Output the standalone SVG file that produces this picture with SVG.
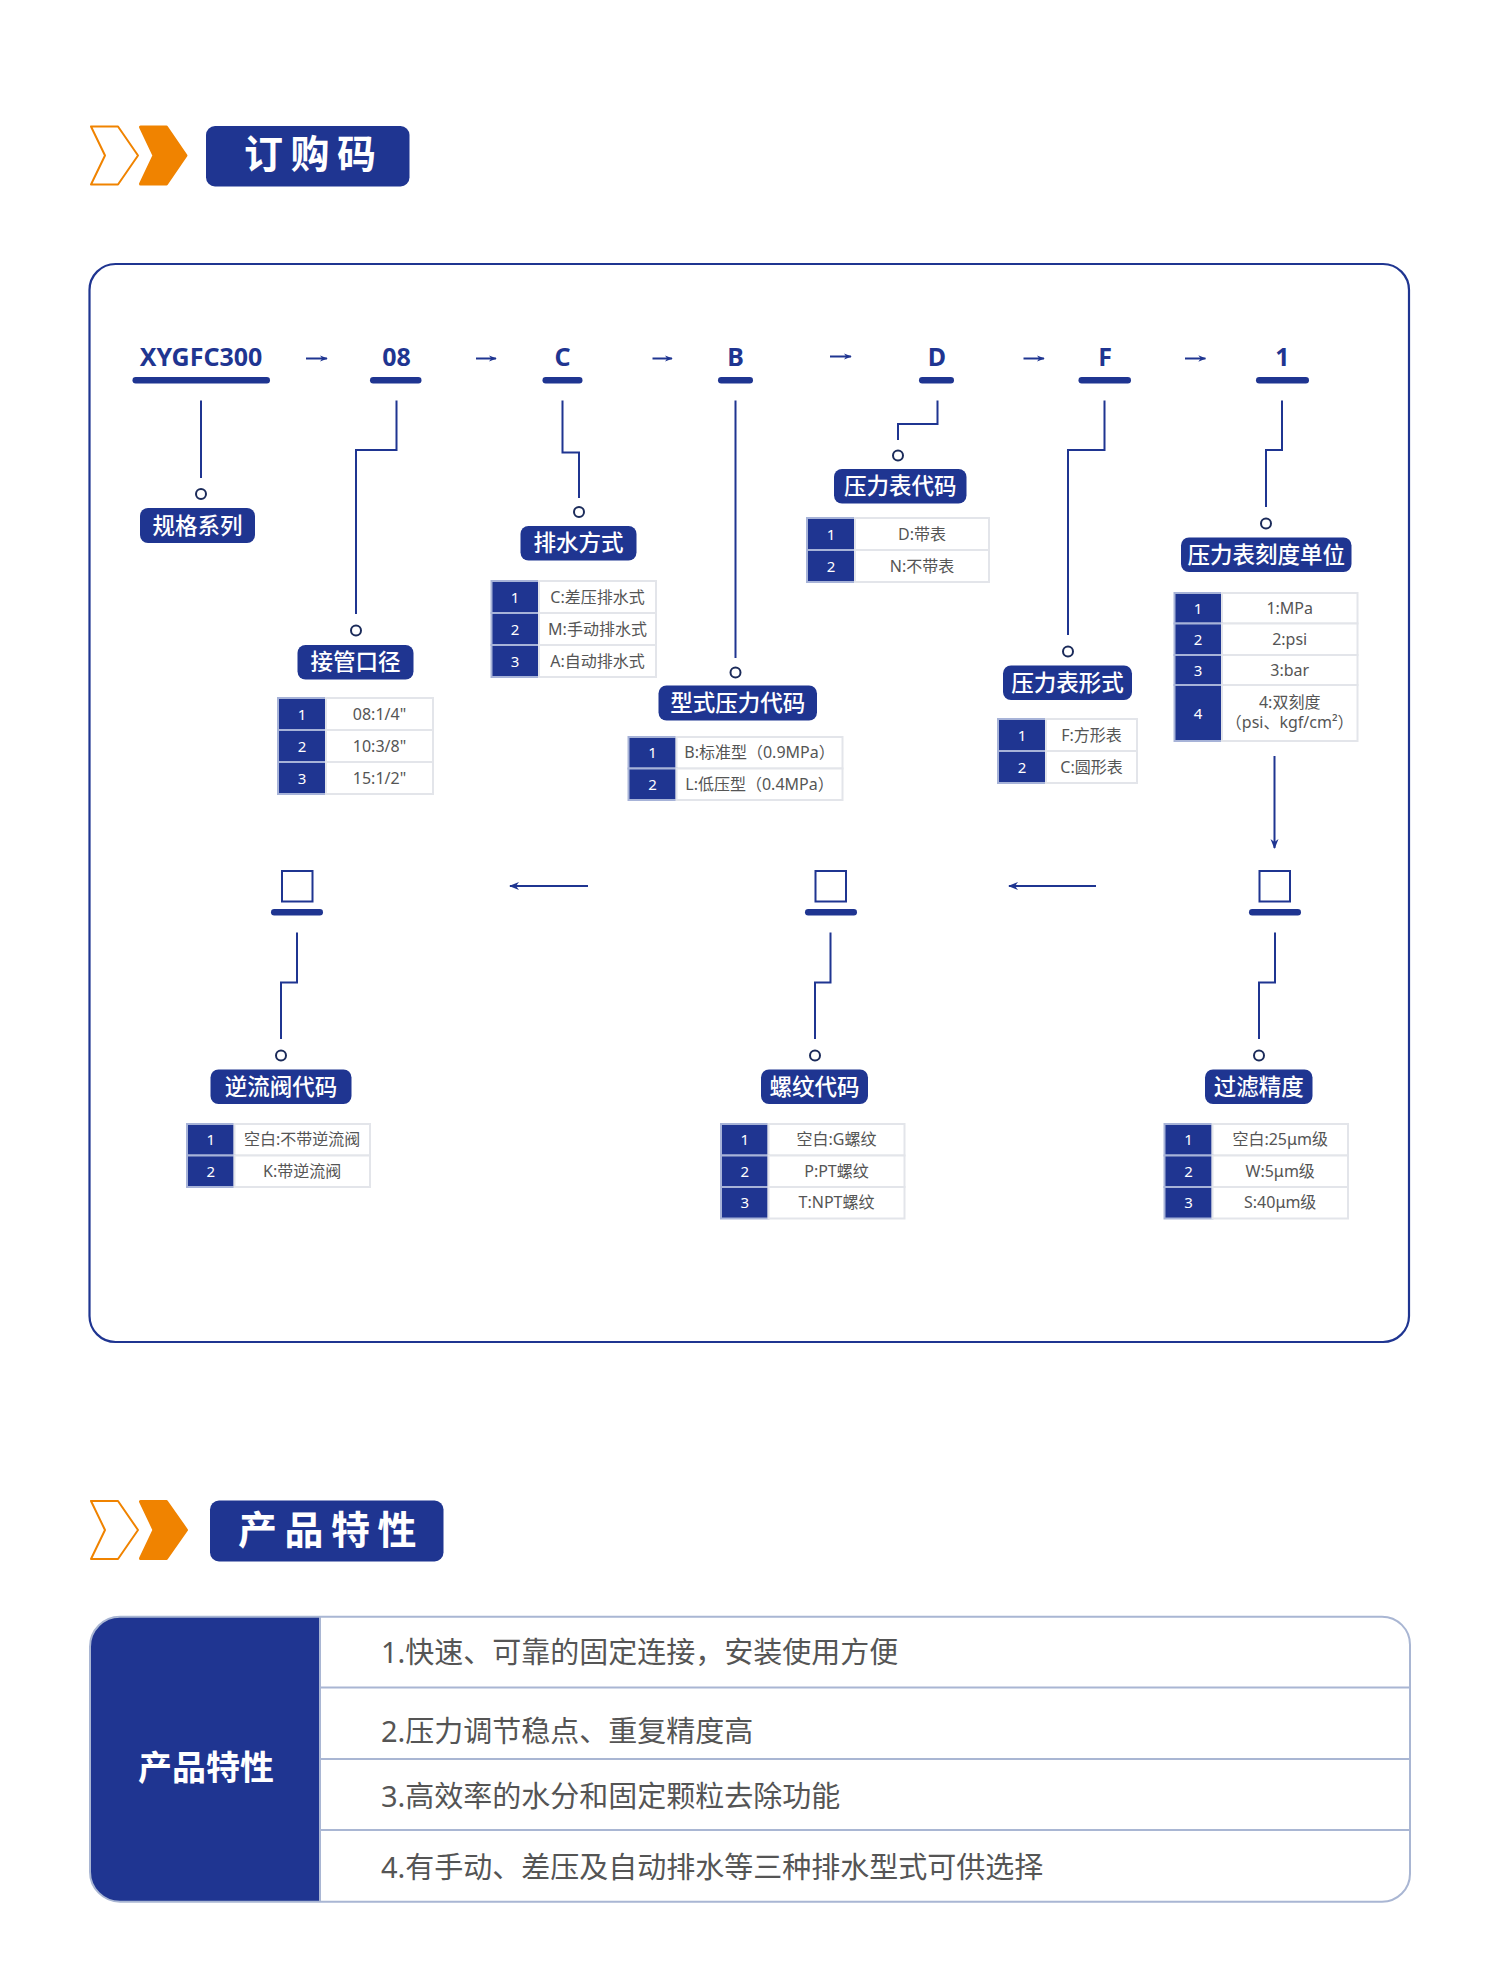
<svg xmlns="http://www.w3.org/2000/svg" width="1500" height="1967" viewBox="0 0 1500 1967">
<defs>
<style>
.navy{fill:#1f3591}
.conn{fill:none;stroke:#1f3591;stroke-width:2}
.dot{fill:#fff;stroke:#1b2b5a;stroke-width:2}
.lbl{fill:#1f3591}
.lt{fill:#fff;font-family:"Noto Sans CJK SC",sans-serif;font-weight:500;font-size:22.5px;text-anchor:middle}
.code{fill:#1f3591;font-family:"Noto Sans","Noto Sans CJK SC",sans-serif;font-weight:bold;font-size:25px;text-anchor:middle}
.bar{fill:#1f3591}
.num{fill:#1f3591;stroke:#a7b3d8;stroke-width:2}
.cell{fill:#fff;stroke:#e3e5ea;stroke-width:2}
.nt{fill:#fff;font-family:"Noto Sans",sans-serif;font-size:15px;text-anchor:middle}
.ct{fill:#555;font-family:"Noto Sans","Noto Sans CJK SC",sans-serif;font-size:16px;text-anchor:middle}
.sq{fill:#fff;stroke:#1f3591;stroke-width:2}
.title{fill:#fff;font-family:"Noto Sans CJK SC",sans-serif;font-weight:bold;font-size:39px;letter-spacing:7.5px}
.feat{fill:#555;font-family:"Noto Sans","Noto Sans CJK SC",sans-serif;font-size:29px}
.sep{stroke:#a9b6d3;stroke-width:2;fill:none}
</style>
<marker id="ah" viewBox="0 0 10 10" refX="9" refY="5" markerWidth="8" markerHeight="8" markerUnits="userSpaceOnUse" orient="auto">
<path d="M0,1 L10,5 L0,9 L3,5 Z" fill="#1f3591"/>
</marker>
<marker id="ahb" viewBox="0 0 10 10" refX="9" refY="5" markerWidth="10" markerHeight="10" markerUnits="userSpaceOnUse" orient="auto">
<path d="M0,1 L10,5 L0,9 L3,5 Z" fill="#1f3591"/>
</marker>
</defs>
<rect width="1500" height="1967" fill="#fff"/>

<!-- Section 1 header -->
<g id="header1">
<path d="M91 126.5 H118 L138 155.5 L118 184.5 H91 L105 155.5 Z" fill="none" stroke="#f08300" stroke-width="2" stroke-linejoin="round"/>
<path d="M140.5 127 H166.5 L186 155.5 L166.5 184 H140.5 L154 155.5 Z" fill="#f08300" stroke="#f08300" stroke-width="3" stroke-linejoin="round"/>
<rect x="206" y="126" width="203.5" height="60.5" rx="9" class="navy"/>
<text x="244" y="168" class="title">订购码</text>
</g>

<!-- Main frame -->
<rect id="frame" x="89.5" y="264" width="1319.5" height="1078" rx="26" fill="none" stroke="#1f3591" stroke-width="2.2"/>

<!-- Top code row -->
<g id="codes">
<text x="201" y="366" class="code">XYGFC300</text>
<rect x="132.5" y="377" width="137.5" height="6.5" rx="3.2" class="bar"/>
<text x="396.5" y="366" class="code">08</text>
<rect x="370" y="377" width="51.5" height="6.5" rx="3.2" class="bar"/>
<text x="562.5" y="366" class="code">C</text>
<rect x="542.5" y="377" width="40" height="6.5" rx="3.2" class="bar"/>
<text x="735.5" y="366" class="code">B</text>
<rect x="718" y="377" width="35" height="6.5" rx="3.2" class="bar"/>
<text x="937" y="366" class="code">D</text>
<rect x="919" y="377" width="35" height="6.5" rx="3.2" class="bar"/>
<text x="1105" y="366" class="code">F</text>
<rect x="1078.5" y="377" width="52.5" height="6.5" rx="3.2" class="bar"/>
<text x="1282.5" y="366" class="code">1</text>
<rect x="1256" y="377" width="53" height="6.5" rx="3.2" class="bar"/>
</g>

<!-- Bottom code squares -->
<g id="slot-check">
<rect x="282" y="871" width="30.5" height="30.5" class="sq"/>
<rect x="271" y="909" width="52" height="6.5" rx="3.2" class="bar"/>
</g>
<g id="slot-thread">
<rect x="815.5" y="871" width="30.5" height="30.5" class="sq"/>
<rect x="805" y="909" width="52" height="6.5" rx="3.2" class="bar"/>
</g>
<g id="slot-filter">
<rect x="1259.5" y="871" width="30.5" height="30.5" class="sq"/>
<rect x="1249" y="909" width="52" height="6.5" rx="3.2" class="bar"/>
</g>

<!-- Connectors -->
<g id="connectors">
<path class="conn" d="M306 358.5 H327" marker-end="url(#ah)"/>
<path class="conn" d="M476 358.5 H496" marker-end="url(#ah)"/>
<path class="conn" d="M652.5 358.5 H672" marker-end="url(#ah)"/>
<path class="conn" d="M830 356.5 H851" marker-end="url(#ah)"/>
<path class="conn" d="M1023.5 358.5 H1044" marker-end="url(#ah)"/>
<path class="conn" d="M1185 358.5 H1205.5" marker-end="url(#ah)"/>

<path class="conn" d="M201 400.5 V478"/>
<path class="conn" d="M396.5 400.5 V450 H356 V614"/>
<path class="conn" d="M562.5 400.5 V452.5 H579 V498"/>
<path class="conn" d="M735.5 400.5 V658"/>
<path class="conn" d="M937.5 400.5 V424 H898 V440"/>
<path class="conn" d="M1104.5 400.5 V450 H1068 V635"/>
<path class="conn" d="M1282 400.5 V450 H1266 V507"/>
<path class="conn" d="M1274.5 756 V848" marker-end="url(#ahb)"/>

<path class="conn" d="M1096 886 H1009" marker-end="url(#ahb)"/>
<path class="conn" d="M588 886 H510" marker-end="url(#ahb)"/>

<path class="conn" d="M297 932.5 V982.5 H281 V1039"/>
<path class="conn" d="M830.5 932.5 V982.5 H815 V1039"/>
<path class="conn" d="M1275 932.5 V982.5 H1259 V1039"/>

<circle class="dot" cx="201" cy="494" r="5"/>
<circle class="dot" cx="356" cy="630.5" r="5"/>
<circle class="dot" cx="579" cy="512" r="5"/>
<circle class="dot" cx="735.5" cy="672.5" r="5"/>
<circle class="dot" cx="898" cy="455.5" r="5"/>
<circle class="dot" cx="1068" cy="651.5" r="5"/>
<circle class="dot" cx="1266" cy="523.5" r="5"/>
<circle class="dot" cx="281" cy="1055.5" r="5"/>
<circle class="dot" cx="815" cy="1055.5" r="5"/>
<circle class="dot" cx="1259" cy="1055.5" r="5"/>
</g>

<!-- Label nodes -->
<g id="node-series">
<rect x="140" y="508" width="115" height="35" rx="8" class="lbl"/>
<text x="197.5" y="533.5" class="lt">规格系列</text>
</g>

<g id="node-port">
<rect x="297.5" y="645" width="116" height="34.5" rx="8" class="lbl"/>
<text x="355.5" y="670" class="lt">接管口径</text>
<rect x="278" y="698" width="48" height="32" class="num"/><rect x="326" y="698" width="107" height="32" class="cell"/>
<rect x="278" y="730" width="48" height="32" class="num"/><rect x="326" y="730" width="107" height="32" class="cell"/>
<rect x="278" y="762" width="48" height="32" class="num"/><rect x="326" y="762" width="107" height="32" class="cell"/>
<text x="302" y="719.5" class="nt">1</text><text x="379.5" y="719.5" class="ct">08:1/4"</text>
<text x="302" y="751.5" class="nt">2</text><text x="379.5" y="751.5" class="ct">10:3/8"</text>
<text x="302" y="783.5" class="nt">3</text><text x="379.5" y="783.5" class="ct">15:1/2"</text>
</g>

<g id="node-drain">
<rect x="520.5" y="526" width="116" height="34.5" rx="8" class="lbl"/>
<text x="578.5" y="551" class="lt">排水方式</text>
<rect x="491.5" y="581" width="47.5" height="32" class="num"/><rect x="539" y="581" width="117" height="32" class="cell"/>
<rect x="491.5" y="613" width="47.5" height="32" class="num"/><rect x="539" y="613" width="117" height="32" class="cell"/>
<rect x="491.5" y="645" width="47.5" height="32" class="num"/><rect x="539" y="645" width="117" height="32" class="cell"/>
<text x="515" y="602.5" class="nt">1</text><text x="597.5" y="602.5" class="ct">C:差压排水式</text>
<text x="515" y="634.5" class="nt">2</text><text x="597.5" y="634.5" class="ct">M:手动排水式</text>
<text x="515" y="666.5" class="nt">3</text><text x="597.5" y="666.5" class="ct">A:自动排水式</text>
</g>

<g id="node-type">
<rect x="658.5" y="685.5" width="158.5" height="35" rx="8" class="lbl"/>
<text x="737.7" y="711" class="lt">型式压力代码</text>
<rect x="628.5" y="737" width="48" height="31.5" class="num"/><rect x="676.5" y="737" width="166" height="31.5" class="cell"/>
<rect x="628.5" y="768.5" width="48" height="31.5" class="num"/><rect x="676.5" y="768.5" width="166" height="31.5" class="cell"/>
<text x="652.5" y="758.2" class="nt">1</text><text x="759.5" y="758.2" class="ct">B:标准型（0.9MPa）</text>
<text x="652.5" y="789.7" class="nt">2</text><text x="759.5" y="789.7" class="ct">L:低压型（0.4MPa）</text>
</g>

<g id="node-gauge">
<rect x="834" y="469" width="132.5" height="34.5" rx="8" class="lbl"/>
<text x="900.3" y="494" class="lt">压力表代码</text>
<rect x="807" y="518" width="48" height="32" class="num"/><rect x="855" y="518" width="134" height="32" class="cell"/>
<rect x="807" y="550" width="48" height="32" class="num"/><rect x="855" y="550" width="134" height="32" class="cell"/>
<text x="831" y="539.5" class="nt">1</text><text x="922" y="539.5" class="ct">D:带表</text>
<text x="831" y="571.5" class="nt">2</text><text x="922" y="571.5" class="ct">N:不带表</text>
</g>

<g id="node-gaugeform">
<rect x="1003" y="665.5" width="129" height="34.5" rx="8" class="lbl"/>
<text x="1067.5" y="690.5" class="lt">压力表形式</text>
<rect x="998" y="719" width="48" height="32" class="num"/><rect x="1046" y="719" width="91" height="32" class="cell"/>
<rect x="998" y="751" width="48" height="32" class="num"/><rect x="1046" y="751" width="91" height="32" class="cell"/>
<text x="1022" y="740.5" class="nt">1</text><text x="1091.5" y="740.5" class="ct">F:方形表</text>
<text x="1022" y="772.5" class="nt">2</text><text x="1091.5" y="772.5" class="ct">C:圆形表</text>
</g>

<g id="node-unit">
<rect x="1181" y="537.5" width="170.5" height="34.5" rx="8" class="lbl"/>
<text x="1266.2" y="562.5" class="lt">压力表刻度单位</text>
<rect x="1174.5" y="593" width="47.5" height="30.5" class="num"/><rect x="1222" y="593" width="135.5" height="30.5" class="cell"/>
<rect x="1174.5" y="623.5" width="47.5" height="31.5" class="num"/><rect x="1222" y="623.5" width="135.5" height="31.5" class="cell"/>
<rect x="1174.5" y="655" width="47.5" height="30" class="num"/><rect x="1222" y="655" width="135.5" height="30" class="cell"/>
<rect x="1174.5" y="685" width="47.5" height="56" class="num"/><rect x="1222" y="685" width="135.5" height="56" class="cell"/>
<text x="1198" y="613.7" class="nt">1</text><text x="1289.7" y="613.7" class="ct">1:MPa</text>
<text x="1198" y="644.7" class="nt">2</text><text x="1289.7" y="644.7" class="ct">2:psi</text>
<text x="1198" y="675.5" class="nt">3</text><text x="1289.7" y="675.5" class="ct">3:bar</text>
<text x="1198" y="718.5" class="nt">4</text>
<text x="1289.7" y="707.5" class="ct">4:双刻度</text>
<text x="1289.7" y="727.5" class="ct">（psi、kgf/cm²）</text>
</g>

<g id="node-check">
<rect x="210.5" y="1069.5" width="141" height="34.5" rx="8" class="lbl"/>
<text x="281" y="1094.5" class="lt">逆流阀代码</text>
<rect x="187" y="1124" width="47.5" height="31.5" class="num"/><rect x="234.5" y="1124" width="135.5" height="31.5" class="cell"/>
<rect x="187" y="1155.5" width="47.5" height="31.5" class="num"/><rect x="234.5" y="1155.5" width="135.5" height="31.5" class="cell"/>
<text x="210.7" y="1145.2" class="nt">1</text><text x="302.2" y="1145.2" class="ct">空白:不带逆流阀</text>
<text x="210.7" y="1176.7" class="nt">2</text><text x="302.2" y="1176.7" class="ct">K:带逆流阀</text>
</g>

<g id="node-thread">
<rect x="761" y="1069.5" width="107" height="34.5" rx="8" class="lbl"/>
<text x="814.5" y="1094.5" class="lt">螺纹代码</text>
<rect x="721" y="1124" width="47.5" height="31.5" class="num"/><rect x="768.5" y="1124" width="136" height="31.5" class="cell"/>
<rect x="721" y="1155.5" width="47.5" height="31.5" class="num"/><rect x="768.5" y="1155.5" width="136" height="31.5" class="cell"/>
<rect x="721" y="1187" width="47.5" height="31.5" class="num"/><rect x="768.5" y="1187" width="136" height="31.5" class="cell"/>
<text x="744.7" y="1145.2" class="nt">1</text><text x="836.5" y="1145.2" class="ct">空白:G螺纹</text>
<text x="744.7" y="1176.7" class="nt">2</text><text x="836.5" y="1176.7" class="ct">P:PT螺纹</text>
<text x="744.7" y="1208.2" class="nt">3</text><text x="836.5" y="1208.2" class="ct">T:NPT螺纹</text>
</g>

<g id="node-filter">
<rect x="1205" y="1069.5" width="107.5" height="34.5" rx="8" class="lbl"/>
<text x="1258.8" y="1094.5" class="lt">过滤精度</text>
<rect x="1164.5" y="1124" width="48" height="31.5" class="num"/><rect x="1212.5" y="1124" width="135.5" height="31.5" class="cell"/>
<rect x="1164.5" y="1155.5" width="48" height="31.5" class="num"/><rect x="1212.5" y="1155.5" width="135.5" height="31.5" class="cell"/>
<rect x="1164.5" y="1187" width="48" height="31.5" class="num"/><rect x="1212.5" y="1187" width="135.5" height="31.5" class="cell"/>
<text x="1188.5" y="1145.2" class="nt">1</text><text x="1280.2" y="1145.2" class="ct">空白:25μm级</text>
<text x="1188.5" y="1176.7" class="nt">2</text><text x="1280.2" y="1176.7" class="ct">W:5μm级</text>
<text x="1188.5" y="1208.2" class="nt">3</text><text x="1280.2" y="1208.2" class="ct">S:40μm级</text>
</g>

<!-- Section 2 header -->
<g id="header2">
<path d="M91 1501 H118 L138 1530 L118 1559 H91 L105 1530 Z" fill="none" stroke="#f08300" stroke-width="2" stroke-linejoin="round"/>
<path d="M140.5 1501.5 H166.5 L186.5 1530 L166.5 1558.5 H140.5 L154 1530 Z" fill="#f08300" stroke="#f08300" stroke-width="3" stroke-linejoin="round"/>
<rect x="210" y="1500.5" width="233.5" height="61" rx="9" class="navy"/>
<text x="238" y="1544" class="title">产品特性</text>
</g>

<!-- Features table -->
<g id="features">
<path d="M320 1616.7 H120 A30 30 0 0 0 90 1646.7 V1871.7 A30 30 0 0 0 120 1901.7 H320 Z" class="navy"/>
<path class="sep" d="M120 1616.7 H1382 A28 28 0 0 1 1410 1644.7 V1873.7 A28 28 0 0 1 1382 1901.7 H120 A30 30 0 0 1 90 1871.7 V1646.7 A30 30 0 0 1 120 1616.7 Z"/>
<path class="sep" d="M320 1616.7 V1901.7 M320 1687.5 H1410 M320 1759 H1410 M320 1830 H1410"/>
<text x="206" y="1780" fill="#fff" font-family="Noto Sans CJK SC,sans-serif" font-weight="bold" font-size="34" text-anchor="middle">产品特性</text>
<text x="381" y="1662.5" class="feat">1.快速、可靠的固定连接，安装使用方便</text>
<text x="381" y="1742" class="feat">2.压力调节稳点、重复精度高</text>
<text x="381" y="1806.5" class="feat">3.高效率的水分和固定颗粒去除功能</text>
<text x="381" y="1877.5" class="feat">4.有手动、差压及自动排水等三种排水型式可供选择</text>
</g>
</svg>
